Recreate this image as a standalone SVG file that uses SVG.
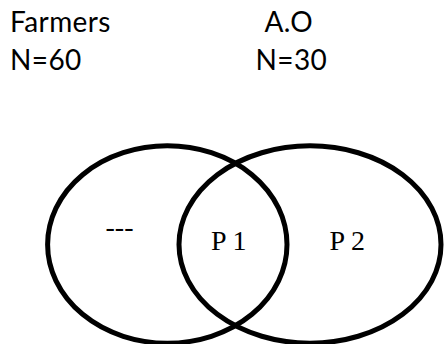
<svg xmlns="http://www.w3.org/2000/svg" width="445" height="344" viewBox="0 0 445 344">
<style>
.hdr{font-family:Lato,"Liberation Sans",sans-serif;font-size:28px;letter-spacing:0.4px;fill:#000}
.lbl{font-family:"Liberation Serif","Times New Roman",serif;font-size:28px;fill:#000}
.set{fill:none;stroke:#000;stroke-width:5}
</style>
<rect width="445" height="344" fill="#fff"/>
<g id="farmers">
<text class="hdr" x="10" y="31.5">Farmers</text>
<text class="hdr" x="10" y="70">N=60</text>
</g>
<g id="ao">
<text class="hdr" x="264.5" y="31.5">A.O</text>
<text class="hdr" x="255.5" y="70">N=30</text>
</g>
<g id="set-left">
<ellipse class="set" cx="167.3" cy="244.5" rx="119.7" ry="98.7"/>
<text class="lbl" x="105.5" y="235.5">---</text>
</g>
<g id="set-right">
<ellipse class="set" cx="310" cy="244.5" rx="131" ry="98.7"/>
<text class="lbl" x="329.5" y="250">P 2</text>
</g>
<g id="intersection">
<text class="lbl" x="211" y="250">P 1</text>
</g>
</svg>
